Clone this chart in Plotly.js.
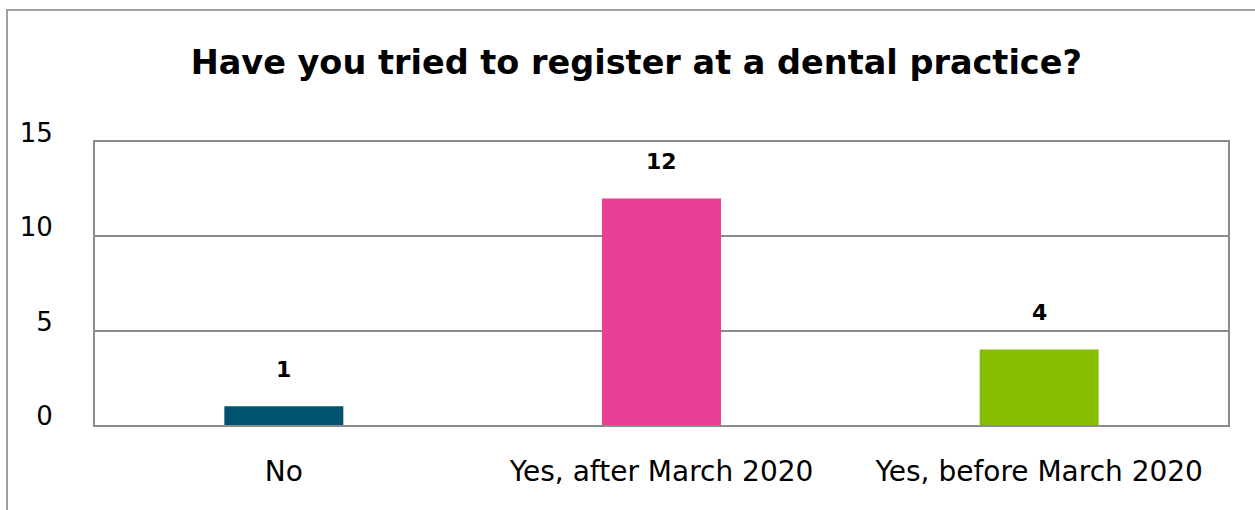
<!DOCTYPE html>
<html>
<head>
<meta charset="utf-8">
<script src="https://cdn.plot.ly/plotly-3.0.1.min.js"></script>
<style>
  html, body { margin: 0; padding: 0; background: #fff; overflow: hidden; }
  #frame { position: absolute; left: 6px; top: 9px; width: 1300px; height: 600px;
           border-left: 2px solid #a0a0a0; border-top: 2px solid #a0a0a0; }
  #chart { position: absolute; left: 0; top: 0; width: 1255px; height: 510px; }
</style>
</head>
<body>
<div id="frame"></div>
<div id="chart"></div>
<script>
const categories = ["No", "Yes, after March 2020", "Yes, before March 2020"];
const values = [1, 12, 4];
const barColors = ["#00536d", "#e83e96", "#85bf00"];
const yTicks = [0, 5, 10, 15];

const trace = {
  type: "bar",
  x: categories,
  y: values,
  marker: { color: barColors },
  width: 0.315,
  hoverinfo: "x+y"
};

const annotations = categories.map((c, i) => ({
  x: c, y: values[i], xref: "x", yref: "y",
  text: "<b>" + values[i] + "</b>",
  showarrow: false, yanchor: "middle", yshift: 37,
  font: { family: "DejaVu Sans, sans-serif", size: 22, color: "#000" }
}));

const layout = {
  width: 1255, height: 510,
  paper_bgcolor: "rgba(0,0,0,0)",
  plot_bgcolor: "rgba(0,0,0,0)",
  margin: { l: 95, r: 27, t: 142, b: 85 },
  title: {
    text: "<b>Have you tried to register at a dental practice?</b>",
    font: { family: "DejaVu Sans, sans-serif", size: 33.5, color: "#000" },
    x: 0.507, xanchor: "center", y: 1 - 62 / 510, yanchor: "middle", yref: "container"
  },
  xaxis: {
    type: "category",
    showline: true, mirror: true, linecolor: "#8c8c8c", linewidth: 2,
    showgrid: false, ticks: "",
    ticklabelstandoff: 20,
    tickfont: { family: "DejaVu Sans, sans-serif", size: 28, color: "#000" }
  },
  yaxis: {
    range: [0, 15], tickvals: yTicks, ticktext: yTicks.map(String),
    showline: true, mirror: true, linecolor: "#8c8c8c", linewidth: 2,
    showgrid: true, gridcolor: "#8c8c8c", gridwidth: 2,
    zeroline: false, ticks: "",
    ticklabelstandoff: 35, ticklabelshift: -9,
    tickfont: { family: "DejaVu Sans, sans-serif", size: 26, color: "#000" }
  },
  annotations: annotations,
  showlegend: false
};

Plotly.newPlot("chart", [trace], layout, { displayModeBar: false, staticPlot: true });
</script>
</body>
</html>
